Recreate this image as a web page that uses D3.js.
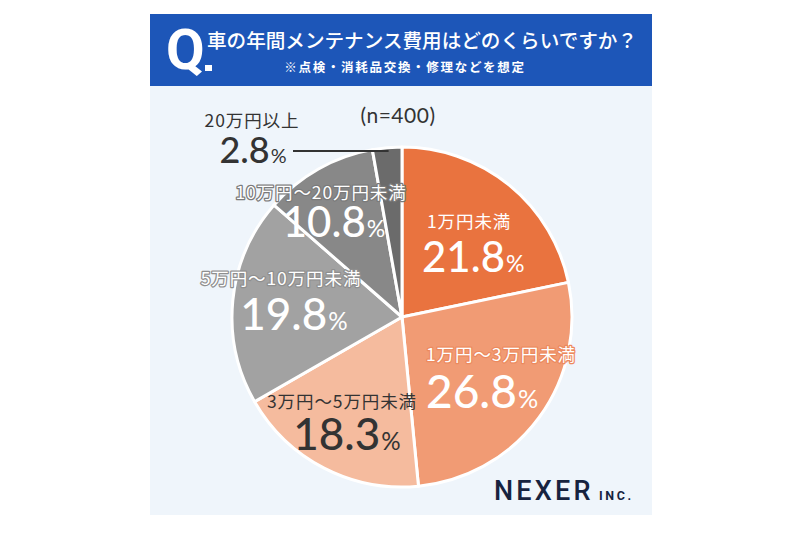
<!DOCTYPE html>
<html>
<head>
<meta charset="utf-8">
<script src="https://cdn.jsdelivr.net/npm/d3@7"></script>
<style>
    body { margin: 0; background: #ffffff; }
    svg { display: block; }
</style>
</head>
<body>
<svg id="chart"></svg>
<script>
// =====
// DATA
// =====
var categories = ["1万円未満", "1万円～3万円未満", "3万円～5万円未満", "5万円～10万円未満", "10万円～20万円未満", "20万円以上"];
var shares = [21.8, 26.8, 18.3, 19.8, 10.8, 2.8];
var sampleLabel = "(n=400)";
var titleText = "車の年間メンテナンス費用はどのくらいですか？";
var subtitleText = "※点検・消耗品交換・修理などを想定";

// ##########
// # LAYOUT #
// ##########
var width = 800, height = 534;
var cx = 402, cy = 317, radius = 170;

var sliceColors = ["#e9733f", "#f19b74", "#f5bb9e", "#a2a2a2", "#888888", "#6b6b6b"];
var catFill = ["#ffffff", "#ffffff", "#333333", "#ffffff", "#ffffff", "#333333"];
var catStroke = [null, "#ec8a5e", null, "#8f8f8f", "#7a7a7a", null];
var valFill = ["#ffffff", "#ffffff", "#333333", "#ffffff", "#ffffff", "#333333"];
var valSize = [42, 46, 44, 44, 42, 36];

// label placement, offsets from the pie centre
var labelLayout = [
    {anchor: "start", cat: [25, -89], val: [20, -45]},
    {anchor: "start", cat: [24, 44], val: [24, 91]},
    {anchor: "middle", cat: [-60, 91], val: [-55, 133]},
    {anchor: "middle", cat: [-121, -32], val: [-108, 13]},
    {anchor: "middle", cat: [-81, -118], val: [-68, -80]},
    {anchor: "middle", cat: [-150, -190], val: [-149, -154]}
];

var jp = "'Noto Sans CJK JP', 'Noto Sans', sans-serif";
var num = "Lato, 'Noto Sans', sans-serif";

var svg = d3.select("#chart").attr("width", width).attr("height", height);

// panel
svg.append("rect")
    .attr("x", 150).attr("y", 14)
    .attr("width", 502).attr("height", 501)
    .attr("fill", "#eff5fb");

svg.append("rect")
    .attr("x", 150).attr("y", 14)
    .attr("width", 502).attr("height", 72)
    .attr("fill", "#1d56b8");

// header
svg.append("text")
    .attr("x", 166).attr("y", 69)
    .attr("font-family", "Roboto, " + jp)
    .attr("font-weight", 700)
    .attr("font-size", 56)
    .attr("fill", "#ffffff")
    .text("Q");

svg.append("rect")
    .attr("x", 205).attr("y", 65)
    .attr("width", 7).attr("height", 6)
    .attr("fill", "#ffffff");

svg.append("text")
    .attr("x", 422).attr("y", 48)
    .attr("text-anchor", "middle")
    .attr("font-family", jp)
    .attr("font-weight", 500)
    .attr("font-size", 19.6)
    .attr("fill", "#ffffff")
    .text(titleText);

svg.append("text")
    .attr("x", 405).attr("y", 72)
    .attr("text-anchor", "middle")
    .attr("font-family", jp)
    .attr("font-weight", 700)
    .attr("font-size", 12.5)
    .attr("letter-spacing", 1.7)
    .attr("fill", "#ffffff")
    .text(subtitleText);

svg.append("text")
    .attr("x", 398).attr("y", 123)
    .attr("text-anchor", "middle")
    .attr("font-family", num)
    .attr("font-size", 21)
    .attr("letter-spacing", 0.5)
    .attr("fill", "#333333")
    .text(sampleLabel);

// ######
// # PIE #
// ######
var pie = d3.pie().sort(null).value(function (d) { return d; });
var arc = d3.arc().innerRadius(0).outerRadius(radius);
var arcs = pie(shares);

var g = svg.append("g").attr("transform", "translate(" + cx + "," + cy + ")");

g.selectAll("path")
    .data(arcs)
    .enter().append("path")
    .attr("d", arc)
    .attr("fill", function (d, i) { return sliceColors[i]; })
    .attr("stroke", "#ffffff")
    .attr("stroke-width", 3)
    .attr("stroke-linejoin", "round");

// leader for the small slice
var small = arcs[5];
var midA = (small.startAngle + small.endAngle) / 2;
g.append("line")
    .attr("x1", -109).attr("y1", -166)
    .attr("x2", Math.sin(midA) * radius * 0.9)
    .attr("y2", -166)
    .attr("stroke", "#333333")
    .attr("stroke-width", 2);

// labels
var labels = g.selectAll("g.lbl")
    .data(arcs)
    .enter().append("g")
    .attr("class", "lbl");

labels.append("text")
    .attr("x", function (d, i) { return labelLayout[i].cat[0]; })
    .attr("y", function (d, i) { return labelLayout[i].cat[1]; })
    .attr("text-anchor", function (d, i) { return labelLayout[i].anchor; })
    .attr("font-family", jp)
    .attr("font-size", 17.5)
    .attr("letter-spacing", 0.9)
    .attr("fill", function (d, i) { return catFill[i]; })
    .attr("stroke", function (d, i) { return catStroke[i] || "none"; })
    .attr("stroke-width", 2.5)
    .attr("paint-order", "stroke")
    .attr("stroke-linejoin", "round")
    .text(function (d, i) { return categories[i]; });

var val = labels.append("text")
    .attr("x", function (d, i) { return labelLayout[i].val[0]; })
    .attr("y", function (d, i) { return labelLayout[i].val[1]; })
    .attr("text-anchor", function (d, i) { return labelLayout[i].anchor; })
    .attr("fill", function (d, i) { return valFill[i]; })
    .attr("font-family", num);

val.append("tspan")
    .attr("font-size", function (d, i) { return valSize[i]; })
    .attr("font-weight", 500)
    .text(function (d) { return d.data.toFixed(1); });

val.append("tspan")
    .attr("font-size", function (d, i) { return valSize[i] * 0.55; })
    .attr("dx", 1)
    .text("%");

// logo
svg.append("text")
    .attr("x", 494).attr("y", 500)
    .attr("font-family", "Roboto, " + num)
    .attr("font-weight", 500)
    .attr("font-size", 27)
    .attr("letter-spacing", 3.2)
    .attr("fill", "#17233f")
    .text("NEXER");

svg.append("text")
    .attr("x", 599).attr("y", 500)
    .attr("font-family", "Roboto, " + num)
    .attr("font-weight", 700)
    .attr("font-size", 12.5)
    .attr("letter-spacing", 2.6)
    .attr("fill", "#17233f")
    .text("INC.");
</script>
</body>
</html>
